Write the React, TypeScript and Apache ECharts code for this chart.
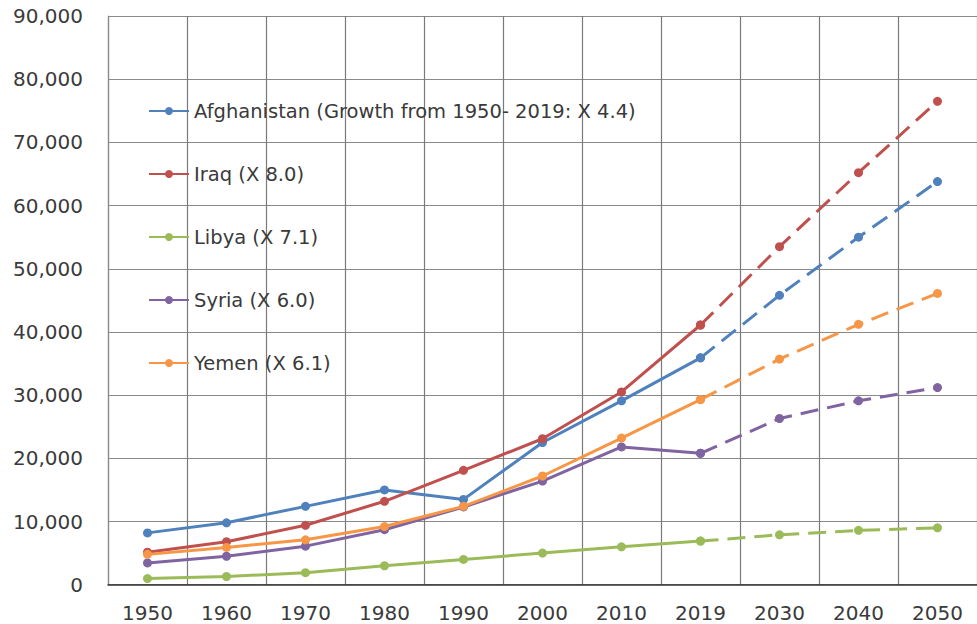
import React, { useEffect, useRef } from "react";
import * as echarts from "echarts";

const years = ["1950", "1960", "1970", "1980", "1990", "2000", "2010", "2019", "2030", "2040", "2050"];
const yTicks = [0, 10000, 20000, 30000, 40000, 50000, 60000, 70000, 80000, 90000];

const seriesNames = [
  "Afghanistan (Growth from 1950- 2019: X 4.4)",
  "Iraq (X 8.0)",
  "Libya (X 7.1)",
  "Syria (X 6.0)",
  "Yemen (X 6.1)",
];
const colors = ["#4F81BD", "#C0504D", "#9BBB59", "#8064A2", "#F79646"];

// 1950 .. 2019 (observed)
const afghanistan = [8200, 9800, 12400, 15000, 13500, 22500, 29100, 35900];
const iraq = [5150, 6800, 9400, 13200, 18100, 23100, 30500, 41100];
const libya = [970, 1300, 1900, 3000, 4000, 5000, 6000, 6900];
const syria = [3450, 4500, 6100, 8700, 12300, 16400, 21800, 20800];
const yemen = [4800, 5900, 7100, 9200, 12400, 17200, 23200, 29300];

// 2019, 2030, 2040, 2050 (projection)
const afghanistanProj = [35900, 45800, 55000, 63800];
const iraqProj = [41100, 53500, 65200, 76500];
const libyaProj = [6900, 7900, 8600, 9000];
const syriaProj = [20800, 26300, 29100, 31200];
const yemenProj = [29300, 35700, 41200, 46100];

const observed = [afghanistan, iraq, libya, syria, yemen];
const projected = [afghanistanProj, iraqProj, libyaProj, syriaProj, yemenProj];

const FONT = "DejaVu Sans";
const TEXT = "#3a3a3a";

export default function App() {
  const ref = useRef<HTMLDivElement>(null);

  useEffect(() => {
    if (!ref.current) return;
    const chart = echarts.init(ref.current, undefined, { renderer: "svg" });

    const series: any[] = [];
    observed.forEach((vals, i) => {
      series.push({
        name: seriesNames[i],
        type: "line",
        data: vals,
        symbol: "circle",
        symbolSize: 9,
        showSymbol: true,
        lineStyle: { width: 3, color: colors[i] },
        itemStyle: { color: colors[i] },
        z: 2 + i,
      });
    });
    projected.forEach((vals, i) => {
      const lead = new Array(observed[i].length - 1).fill(null);
      series.push({
        name: seriesNames[i] + " projection",
        type: "line",
        data: [...lead, ...vals],
        symbol: "circle",
        symbolSize: 9,
        showSymbol: true,
        connectNulls: false,
        lineStyle: { width: 3, color: colors[i], type: [18, 9] },
        itemStyle: { color: colors[i] },
        z: 2 + i,
      });
    });

    chart.setOption({
      animation: false,
      backgroundColor: "#ffffff",
      textStyle: { fontFamily: FONT, color: TEXT },
      grid: { left: 108, right: -11, top: 16, bottom: 39.3, containLabel: false },
      legend: {
        data: seriesNames,
        orient: "vertical",
        left: 148,
        top: 101,
        padding: 0,
        itemWidth: 40,
        itemHeight: 10,
        itemGap: 43,
        textStyle: { fontFamily: FONT, fontSize: 19.5, color: TEXT, lineHeight: 20 },
        selectedMode: false,
      },
      xAxis: {
        type: "category",
        data: years,
        boundaryGap: true,
        axisLine: { show: true, lineStyle: { color: "#333333", width: 1.5 } },
        axisTick: { show: false },
        axisLabel: { fontFamily: FONT, fontSize: 20, color: TEXT, margin: 18, interval: 0 },
        splitLine: { show: true, interval: 0, lineStyle: { color: "#7a7a7a", width: 1.2 } },
      },
      yAxis: {
        type: "value",
        min: yTicks[0],
        max: yTicks[yTicks.length - 1],
        interval: 10000,
        axisLine: { show: true, lineStyle: { color: "#8a8a8a", width: 1.2 } },
        axisTick: { show: false },
        axisLabel: {
          fontFamily: FONT,
          fontSize: 20,
          color: TEXT,
          margin: 25,
          formatter: (v: number) => v.toLocaleString("en-US"),
        },
        splitLine: { show: true, lineStyle: { color: "#8a8a8a", width: 1.2 } },
      },
      series,
    });

    return () => chart.dispose();
  }, []);

  return (
    <div
      ref={ref}
      style={{ position: "fixed", left: 0, top: 0, width: 977, height: 624, background: "#fff" }}
    />
  );
}
